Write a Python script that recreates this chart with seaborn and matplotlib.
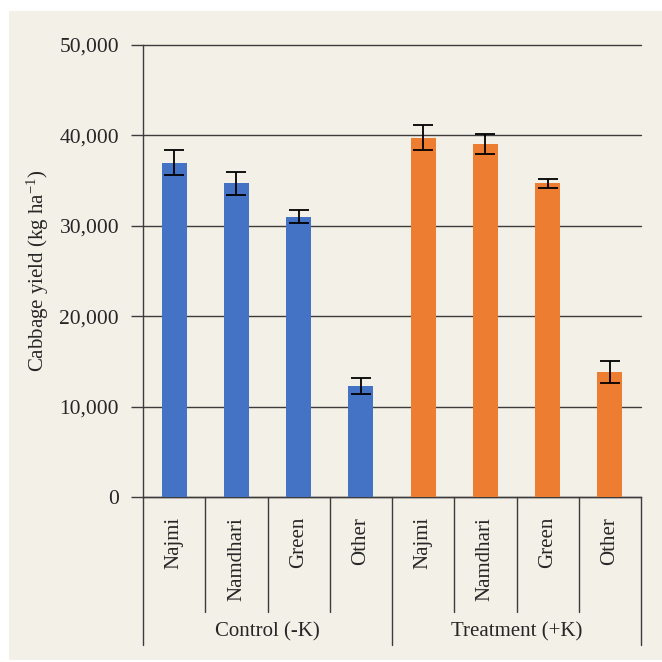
import matplotlib
matplotlib.use("Agg")
import matplotlib.pyplot as plt
import matplotlib.transforms as mtransforms
from matplotlib.patches import Rectangle
from matplotlib.lines import Line2D
from matplotlib.ticker import FuncFormatter
import seaborn as sns
import pandas as pd

# Cabbage yield by variety, without and with potassium
groups = ["Control (-K)", "Treatment (+K)"]
varieties = ["Najmi", "Namdhari", "Green", "Other"]
control_yield = [37000, 34700, 31000, 12250]
control_err = [1350, 1270, 700, 900]
treatment_yield = [39750, 39050, 34700, 13800]
treatment_err = [1350, 1150, 500, 1230]
y_ticks = [0, 10000, 20000, 30000, 40000, 50000]

BG = "#F3F0E8"
BLUE = "#4472C4"
ORANGE = "#ED7D31"
LINE = "#3c3c3c"

sns.set_style("white")
plt.rcParams["font.family"] = ["Liberation Serif", "DejaVu Serif"]
plt.rcParams["mathtext.fontset"] = "custom"
plt.rcParams["mathtext.rm"] = "Liberation Serif"
plt.rcParams["mathtext.it"] = "Liberation Serif:italic"

rows = []
for g, vals in zip(groups, [control_yield, treatment_yield]):
    for v, y in zip(varieties, vals):
        rows.append({"key": f"{g}|{v}", "group": g, "variety": v, "yield": y})
df = pd.DataFrame(rows)
errs = control_err + treatment_err

fig = plt.figure(figsize=(6.62, 6.62), dpi=100)
fig.patch.set_facecolor("white")
fig.add_artist(Rectangle((9 / 662, 2 / 662), 1 - 9 / 662, 1 - 13 / 662,
                         transform=fig.transFigure, facecolor=BG,
                         edgecolor="none", zorder=-10))

ax = fig.add_axes([143 / 662, 1 - 497 / 662, (641 - 143) / 662, 452 / 662])
ax.set_facecolor(BG)

sns.barplot(data=df, x="key", y="yield", hue="group", palette=[BLUE, ORANGE],
            dodge=False, width=0.4, errorbar=None, saturation=1,
            linewidth=0, legend=False, ax=ax, zorder=3)
ax.errorbar(range(len(df)), df["yield"], yerr=errs, fmt="none",
            ecolor="black", elinewidth=1.3, capsize=7, capthick=1.3, zorder=4)

ax.set_ylim(0, 50000)
ax.set_xlim(-0.5, len(df) - 0.5)
ax.set_yticks(y_ticks)
ax.yaxis.set_major_formatter(FuncFormatter(lambda v, p: f"{int(v):,}"))
ax.tick_params(axis="y", length=8.6, width=1, color=LINE, pad=8.6,
               labelsize=15.5, left=True)
ax.grid(axis="y", color=LINE, linewidth=1.0, zorder=0)
for gl in ax.get_ygridlines():
    gl.set_clip_on(False)
ax.set_axisbelow(True)
ax.set_xticks([])
ax.set_xlabel("")
ax.set_ylabel("")
for s in ["top", "right"]:
    ax.spines[s].set_visible(False)
for s in ["left", "bottom"]:
    ax.spines[s].set_color(LINE)
    ax.spines[s].set_linewidth(1.0)

# two-level category axis below the bars
trans = mtransforms.blended_transform_factory(ax.transData, ax.transAxes)
for i, v in enumerate(df["variety"]):
    ax.text(i, -0.044, v, transform=trans, rotation=90, ha="center",
            va="top", fontsize=15)
n_per = len(varieties)
for b in range(len(df) + 1):
    outer = b % n_per == 0
    y_end = -0.327 if outer else -0.254
    ax.add_line(Line2D([b - 0.5, b - 0.5], [0, y_end], transform=trans,
                       color=LINE, linewidth=1.0, clip_on=False))
for gi, g in enumerate(groups):
    cx = gi * n_per + (n_per - 1) / 2
    ax.text(cx, -0.299, g, transform=trans, ha="center", va="center",
            fontsize=15)

fig.text(38 / 662, 1 - 271 / 662, "Cabbage yield (kg ha$^{-1}$)",
         rotation=90, ha="center", va="center", fontsize=15)

fig.savefig("out.png", dpi=100, facecolor=fig.get_facecolor())
